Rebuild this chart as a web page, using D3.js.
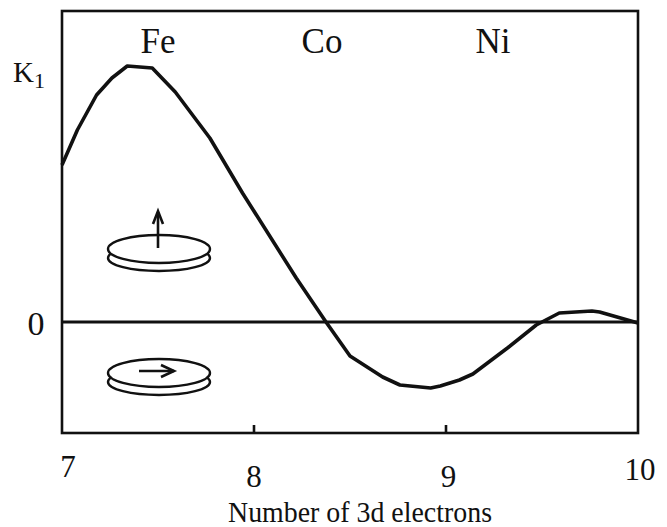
<!DOCTYPE html>
<html><head><meta charset="utf-8">
<script src="https://cdn.jsdelivr.net/npm/d3@7"></script>
<style>html,body{margin:0;background:#fff}svg{display:block}text{font-family:"Liberation Serif",serif;fill:#111}</style>
</head><body><svg id="c" width="667" height="527"></svg>
<script>
const electrons=[7.00,7.08,7.18,7.26,7.34,7.47,7.59,7.77,7.94,8.22,8.375,8.50,8.67,8.76,8.92,8.97,9.07,9.14,9.32,9.47,9.50,9.59,9.76,9.80,10.00];
const k1=[1.57,1.92,2.27,2.44,2.56,2.54,2.30,1.84,1.29,0.44,0.00,-0.34,-0.55,-0.63,-0.66,-0.64,-0.58,-0.52,-0.26,-0.03,0.00,0.09,0.11,0.10,-0.01];
const xTicks=[8,9];
const xTickLabels=["7","8","9","10"];
const elements=["Fe","Co","Ni"];
const elementPositions=[7.5,8.354,9.245];
const xTitle="Number of 3d electrons";
const yLabel="K";const ySub="1";const zeroLabel="0";

const svg=d3.select("#c");
const L=62,R=638,T=11,B=433;
const x=d3.scaleLinear().domain([7,10]).range([L,R]);
const y=d3.scaleLinear().domain([-1.11,3.11]).range([B,T]);
const ink="#111";
svg.append("rect").attr("x",L).attr("y",T).attr("width",R-L).attr("height",B-T).attr("fill","none").attr("stroke",ink).attr("stroke-width",2.6);
svg.selectAll("line.tick").data(xTicks).join("line").attr("class","tick").attr("x1",d=>x(d)).attr("x2",d=>x(d)).attr("y1",B).attr("y2",B-8).attr("stroke",ink).attr("stroke-width",2.6);
svg.append("line").attr("x1",L).attr("x2",R).attr("y1",y(0)).attr("y2",y(0)).attr("stroke",ink).attr("stroke-width",3);
const line=d3.line().x((d,i)=>x(electrons[i])).y(d=>y(d));
svg.append("path").attr("d",line(k1)).attr("fill","none").attr("stroke",ink).attr("stroke-width",3.6).attr("stroke-linejoin","round");

const labelY=[477,487,487,480];
const labelX=[68,254,448.5,640];
svg.selectAll("text.xl").data(xTickLabels).join("text").attr("class","xl").attr("x",(d,i)=>labelX[i]).attr("y",(d,i)=>labelY[i]).attr("text-anchor","middle").attr("font-size",31).text(d=>d);
svg.append("text").attr("x",360).attr("y",522).attr("text-anchor","middle").attr("font-size",29).attr("textLength",264).attr("lengthAdjust","spacingAndGlyphs").text(xTitle);
svg.selectAll("text.el").data(elements).join("text").attr("class","el").attr("x",(d,i)=>x(elementPositions[i])).attr("y",53).attr("text-anchor","middle").attr("font-size",35).text(d=>d);
const k=svg.append("text").attr("x",13).attr("y",82).attr("font-size",29);
k.append("tspan").text(yLabel);
k.append("tspan").attr("dy",6).attr("font-size",22).text(ySub);
svg.append("text").attr("x",36).attr("y",335).attr("text-anchor","middle").attr("font-size",34).text(zeroLabel);

function disc(cy){
  const g=svg.append("g").attr("fill","#fff").attr("stroke",ink).attr("stroke-width",2.4);
  g.append("ellipse").attr("cx",159).attr("cy",cy+9).attr("rx",51).attr("ry",13);
  g.append("ellipse").attr("cx",159).attr("cy",cy).attr("rx",51).attr("ry",14);
}
disc(249);disc(373);
const a=svg.append("g").attr("stroke",ink).attr("fill","none").attr("stroke-width",2.6);
a.append("line").attr("x1",158).attr("y1",248).attr("x2",158).attr("y2",212);
a.append("path").attr("d","M153,224L158,211L163,224");
a.append("line").attr("x1",139).attr("y1",371).attr("x2",174).attr("y2",371);
a.append("path").attr("d","M161,365L174,371L161,377");
</script></body></html>
